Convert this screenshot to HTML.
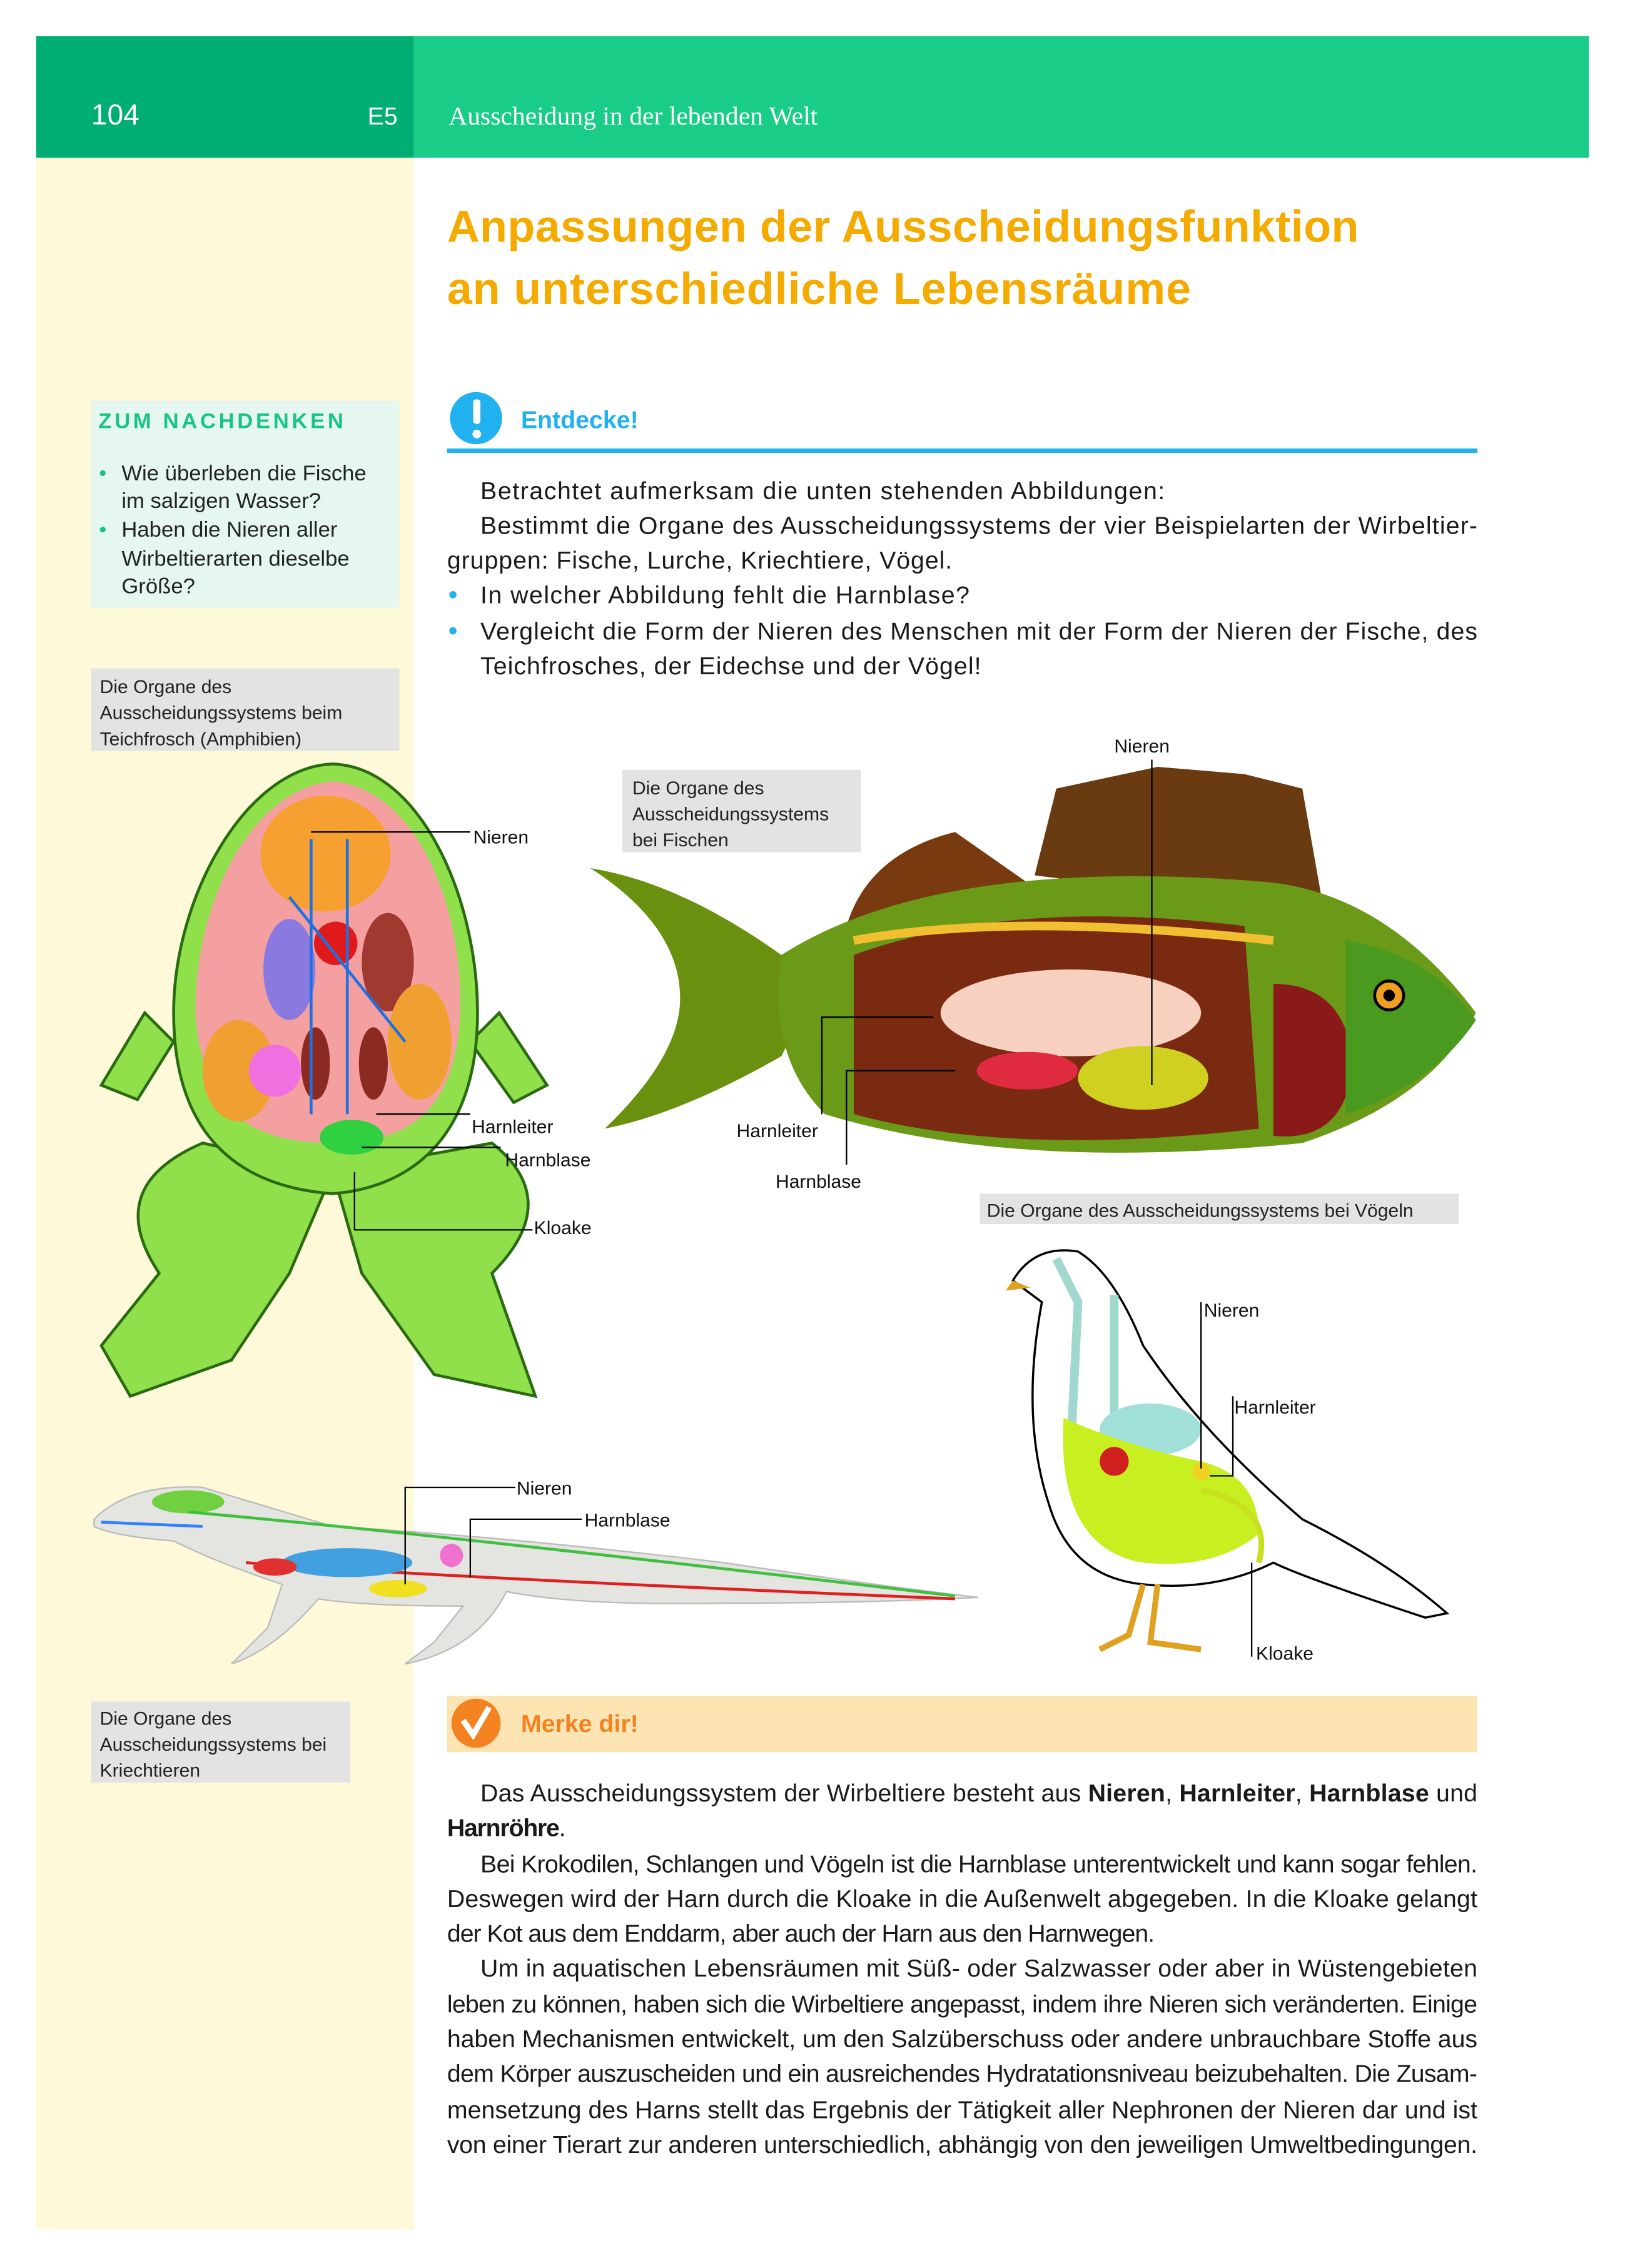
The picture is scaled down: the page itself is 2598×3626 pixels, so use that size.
<!DOCTYPE html>
<html><head><meta charset="utf-8"><style>
html,body{margin:0;padding:0;background:#fff}
svg{display:block}
text{font-family:"Liberation Sans",sans-serif}
</style></head><body>
<svg width="2598" height="3626" viewBox="0 0 1123 1567.5" preserveAspectRatio="none" xmlns="http://www.w3.org/2000/svg">
<rect x="0" y="0" width="1123" height="1568" fill="#fff"/>
<rect x="25" y="109" width="261" height="1432" fill="#fef9d9"/>
<rect x="25" y="25" width="261" height="84" fill="#00ae73"/>
<rect x="286" y="25" width="812" height="84" fill="#19cc88"/>
<text x="63" y="86" font-size="20" fill="#fff">104</text>
<text x="254" y="86" font-size="17" fill="#fff">E5</text>
<text x="310" y="86" font-size="18" fill="#fff" style="font-family:'Liberation Serif',serif">Ausscheidung in der lebenden Welt</text>
<text x="309" y="167" font-size="31" font-weight="bold" fill="#f5aa00" textLength="630">Anpassungen der Ausscheidungsfunktion</text>
<text x="309" y="210" font-size="31" font-weight="bold" fill="#f5aa00" textLength="514">an unterschiedliche Lebensräume</text>
<rect x="63" y="277" width="213" height="143" fill="#e6f7ef"/>
<text x="68" y="296" font-size="15" font-weight="bold" fill="#19c48a" letter-spacing="2">ZUM NACHDENKEN</text>
<g font-size="15" fill="#222">
<circle cx="71" cy="327" r="2" fill="#19c48a"/><circle cx="71" cy="366" r="2" fill="#19c48a"/>
<text x="84" y="332">Wie überleben die Fische</text>
<text x="84" y="351">im salzigen Wasser?</text>
<text x="84" y="371">Haben die Nieren aller</text>
<text x="84" y="391">Wirbeltierarten dieselbe</text>
<text x="84" y="410">Größe?</text>
</g>
<circle cx="329" cy="289" r="18" fill="#21b0f0"/>
<rect x="327" y="276" width="5" height="17" rx="2" fill="#fff"/>
<circle cx="329.5" cy="300" r="3" fill="#fff"/>
<text x="360" y="296" font-size="17" font-weight="bold" fill="#21b0f0">Entdecke!</text>
<rect x="309" y="310" width="712" height="3" fill="#21b0f0"/>
<g font-size="17" fill="#1a1a1a">
<text x="332" y="345" textLength="473">Betrachtet aufmerksam die unten stehenden Abbildungen:</text>
<text x="332" y="369" textLength="689">Bestimmt die Organe des Ausscheidungssystems der vier Beispielarten der Wirbeltier-</text>
<text x="309" y="393" textLength="349">gruppen: Fische, Lurche, Kriechtiere, Vögel.</text>
<text x="332" y="417" textLength="338">In welcher Abbildung fehlt die Harnblase?</text>
<text x="332" y="442" textLength="689">Vergleicht die Form der Nieren des Menschen mit der Form der Nieren der Fische, des</text>
<text x="332" y="466" textLength="346">Teichfrosches, der Eidechse und der Vögel!</text>
</g>
<circle cx="313" cy="411" r="2.5" fill="#21b0f0"/><circle cx="313" cy="436" r="2.5" fill="#21b0f0"/>
<rect x="63" y="462" width="213" height="57" fill="#e3e3e3"/>
<g font-size="13" fill="#222">
<text x="69" y="479">Die Organe des</text><text x="69" y="497">Ausscheidungssystems beim</text><text x="69" y="515">Teichfrosch (Amphibien)</text>
</g>
<rect x="430" y="532" width="165" height="57" fill="#e3e3e3"/>
<g font-size="13" fill="#222">
<text x="437" y="549">Die Organe des</text><text x="437" y="567">Ausscheidungssystems</text><text x="437" y="585">bei Fischen</text>
</g>
<rect x="677" y="825" width="331" height="21" fill="#e3e3e3"/>
<text x="682" y="841" font-size="13" fill="#222">Die Organe des Ausscheidungssystems bei Vögeln</text>
<rect x="63" y="1176" width="179" height="56" fill="#e3e3e3"/>
<g font-size="13" fill="#222">
<text x="69" y="1192">Die Organe des</text><text x="69" y="1210">Ausscheidungssystems bei</text><text x="69" y="1228">Kriechtieren</text>
</g>
<g>
<path d="M100 700 L70 750 L95 760 L120 720 Z M345 700 L378 750 L355 762 L325 720 Z" fill="#8fe04a" stroke="#2a6a10" stroke-width="2"/>
<path d="M140 790 Q70 820 110 880 L70 930 L90 965 L160 940 L200 880 L230 810 Z" fill="#8fe04a" stroke="#2a6a10" stroke-width="2"/>
<path d="M340 790 Q390 830 340 880 L370 965 L300 950 L250 880 L230 810 Z" fill="#8fe04a" stroke="#2a6a10" stroke-width="2"/>
<path d="M230 528 C290 530 330 620 330 700 C330 780 290 820 230 825 C160 820 120 780 120 700 C120 620 170 530 230 528 Z" fill="#8fe04a" stroke="#2a6a10" stroke-width="2"/>
<path d="M230 540 C285 545 320 620 318 700 C315 770 280 790 230 790 C175 790 140 770 135 700 C135 620 175 545 230 540 Z" fill="#f5a0a0"/>
<ellipse cx="225" cy="590" rx="45" ry="40" fill="#f5a030"/>
<ellipse cx="200" cy="670" rx="18" ry="35" fill="#8a7ae0"/>
<ellipse cx="268" cy="665" rx="18" ry="34" fill="#a03a30"/>
<circle cx="232" cy="652" r="15" fill="#e01a1a"/>
<ellipse cx="165" cy="740" rx="25" ry="35" fill="#f0a030"/>
<ellipse cx="290" cy="720" rx="22" ry="40" fill="#f0a030"/>
<circle cx="190" cy="740" r="18" fill="#f070e0"/>
<ellipse cx="218" cy="735" rx="10" ry="25" fill="#8a2a20"/>
<ellipse cx="258" cy="735" rx="10" ry="25" fill="#8a2a20"/>
<ellipse cx="243" cy="786" rx="22" ry="12" fill="#30d040"/>
<path d="M215 580 L215 770 M240 580 L240 770 M200 620 L280 720" stroke="#2070e0" stroke-width="2" fill="none"/>
</g>
<g stroke="#000" stroke-width="1" fill="none">
<polyline points="215,575 325,575"/>
<polyline points="260,770 325,770"/>
<polyline points="250,793 346,793"/>
<polyline points="245,810 245,850 368,850"/>
</g>
<g font-size="13" fill="#111">
<text x="327" y="583">Nieren</text><text x="326" y="783">Harnleiter</text><text x="349" y="806">Harnblase</text><text x="369" y="853">Kloake</text>
</g>
<path d="M408 600 Q470 610 540 660 L555 700 L540 730 Q470 770 418 780 Q470 730 470 690 Q470 640 408 600 Z" fill="#6a9010"/>
<path d="M585 640 Q600 590 660 575 L710 610 Z" fill="#7a3a10"/>
<path d="M715 605 L730 545 L800 530 L860 535 L900 545 L915 630 Z" fill="#6a3a10"/>
<path d="M540 660 Q650 590 880 610 Q960 620 1020 700 Q990 760 900 790 Q700 810 570 770 Q530 730 540 660 Z" fill="#6a9a18"/>
<path d="M590 660 Q700 620 860 640 L870 780 Q700 800 590 770 Z" fill="#7a2a10"/>
<ellipse cx="740" cy="700" rx="90" ry="30" fill="#f8d0c0"/>
<path d="M590 650 Q700 630 880 650" stroke="#f0c030" stroke-width="6" fill="none"/>
<ellipse cx="790" cy="745" rx="45" ry="22" fill="#d0d020"/>
<ellipse cx="710" cy="740" rx="35" ry="13" fill="#e02a40"/>
<path d="M880 680 Q930 680 935 735 Q930 790 880 785 Z" fill="#8a1a1a"/>
<path d="M930 650 Q990 660 1020 705 Q990 750 930 770 Z" fill="#4a9a20"/>
<circle cx="960" cy="688" r="10" fill="#f0a020" stroke="#000" stroke-width="2"/><circle cx="960" cy="688" r="4" fill="#000"/>
<g stroke="#000" stroke-width="1" fill="none">
<polyline points="796,525 796,750"/>
<polyline points="645,703 568,703 568,770"/>
<polyline points="660,740 585,740 585,805"/>
</g>
<g font-size="13" fill="#111">
<text x="770" y="520">Nieren</text><text x="509" y="786">Harnleiter</text><text x="536" y="821">Harnblase</text>
</g>
<path d="M700 885 Q715 860 745 865 Q770 880 790 930 Q830 990 900 1050 Q960 1080 1000 1115 L985 1118 Q900 1090 880 1080 Q840 1100 790 1095 Q740 1090 725 1040 Q705 980 720 900 Z" fill="#fff" stroke="#000" stroke-width="1.5"/>
<path d="M700 885 L695 892 L712 890 Z" fill="#e0a020"/>
<path d="M730 870 L745 900 L740 1000 L770 1000 L770 895" fill="none" stroke="#a0d8d0" stroke-width="6"/>
<ellipse cx="795" cy="988" rx="35" ry="18" fill="#a0e0d8"/>
<path d="M735 980 Q730 1070 790 1080 Q840 1085 870 1060 Q870 1020 830 1010 Q780 1000 735 980 Z" fill="#c8f020"/>
<circle cx="770" cy="1010" r="10" fill="#d02020"/>
<path d="M830 1030 Q880 1040 870 1080" stroke="#c8e020" stroke-width="4" fill="none"/>
<circle cx="830" cy="1017" r="6" fill="#f0d020"/>
<path d="M790 1095 L780 1130 L760 1140 M800 1095 L795 1135 L830 1140" stroke="#e0a020" stroke-width="4" fill="none"/>
<g stroke="#000" stroke-width="1" fill="none">
<polyline points="830,900 830,1015"/>
<polyline points="852,965 852,1020 836,1020"/>
<polyline points="865,1080 865,1145"/>
</g>
<g font-size="13" fill="#111">
<text x="832" y="910">Nieren</text><text x="853" y="977">Harnleiter</text><text x="868" y="1147">Kloake</text>
</g>
<path d="M65 1050 Q90 1025 140 1028 Q180 1040 230 1055 Q350 1062 500 1080 Q600 1095 676 1104 Q600 1108 500 1108 Q400 1110 350 1100 Q330 1140 280 1150 L300 1135 L320 1110 Q250 1110 220 1105 Q190 1140 160 1150 L185 1125 L195 1095 Q150 1080 120 1065 Q80 1062 65 1055 Z" fill="#e4e4e0" stroke="#bbb" stroke-width="1"/>
<ellipse cx="130" cy="1038" rx="25" ry="8" fill="#70d040"/>
<path d="M70 1052 L140 1055" stroke="#3080ff" stroke-width="2"/>
<path d="M130 1045 Q300 1060 660 1103" stroke="#40c040" stroke-width="2" fill="none"/>
<path d="M170 1080 Q300 1090 660 1105" stroke="#e02020" stroke-width="2" fill="none"/>
<ellipse cx="240" cy="1080" rx="45" ry="10" fill="#40a0e0"/>
<ellipse cx="275" cy="1098" rx="20" ry="6" fill="#f0e020"/>
<circle cx="312" cy="1075" r="8" fill="#f070d0"/>
<ellipse cx="190" cy="1083" rx="15" ry="6" fill="#e03030"/>
<g stroke="#000" stroke-width="1" fill="none">
<polyline points="280,1095 280,1028 356,1028"/>
<polyline points="325,1090 325,1050 402,1050"/>
</g>
<g font-size="13" fill="#111">
<text x="357" y="1033">Nieren</text><text x="404" y="1055">Harnblase</text>
</g>
<rect x="309" y="1172" width="712" height="39" fill="#fde5b3"/>
<circle cx="329" cy="1191" r="17" fill="#f58220"/>
<path d="M320 1189 L327 1199 L338 1180" stroke="#fff" stroke-width="4" fill="none"/>
<text x="360" y="1197" font-size="17" font-weight="bold" fill="#f58220">Merke dir!</text>
<g font-size="17" fill="#1a1a1a">
<text x="332" y="1245" textLength="689">Das Ausscheidungssystem der Wirbeltiere besteht aus <tspan font-weight="bold">Nieren</tspan>, <tspan font-weight="bold">Harnleiter</tspan>, <tspan font-weight="bold">Harnblase</tspan> und</text>
<text x="309" y="1269" font-weight="bold" textLength="82">Harnröhre<tspan font-weight="normal">.</tspan></text>
<text x="332" y="1294" textLength="689">Bei Krokodilen, Schlangen und Vögeln ist die Harnblase unterentwickelt und kann sogar fehlen.</text>
<text x="309" y="1318" textLength="712">Deswegen wird der Harn durch die Kloake in die Außenwelt abgegeben. In die Kloake gelangt</text>
<text x="309" y="1342" textLength="489">der Kot aus dem Enddarm, aber auch der Harn aus den Harnwegen.</text>
<text x="332" y="1366" textLength="689">Um in aquatischen Lebensräumen mit Süß- oder Salzwasser oder aber in Wüstengebieten</text>
<text x="309" y="1391" textLength="712">leben zu können, haben sich die Wirbeltiere angepasst, indem ihre Nieren sich veränderten. Einige</text>
<text x="309" y="1415" textLength="712">haben Mechanismen entwickelt, um den Salzüberschuss oder andere unbrauchbare Stoffe aus</text>
<text x="309" y="1439" textLength="712">dem Körper auszuscheiden und ein ausreichendes Hydratationsniveau beizubehalten. Die Zusam-</text>
<text x="309" y="1464" textLength="712">mensetzung des Harns stellt das Ergebnis der Tätigkeit aller Nephronen der Nieren dar und ist</text>
<text x="309" y="1488" textLength="712">von einer Tierart zur anderen unterschiedlich, abhängig von den jeweiligen Umweltbedingungen.</text>
</g>
</svg>
</body></html>
